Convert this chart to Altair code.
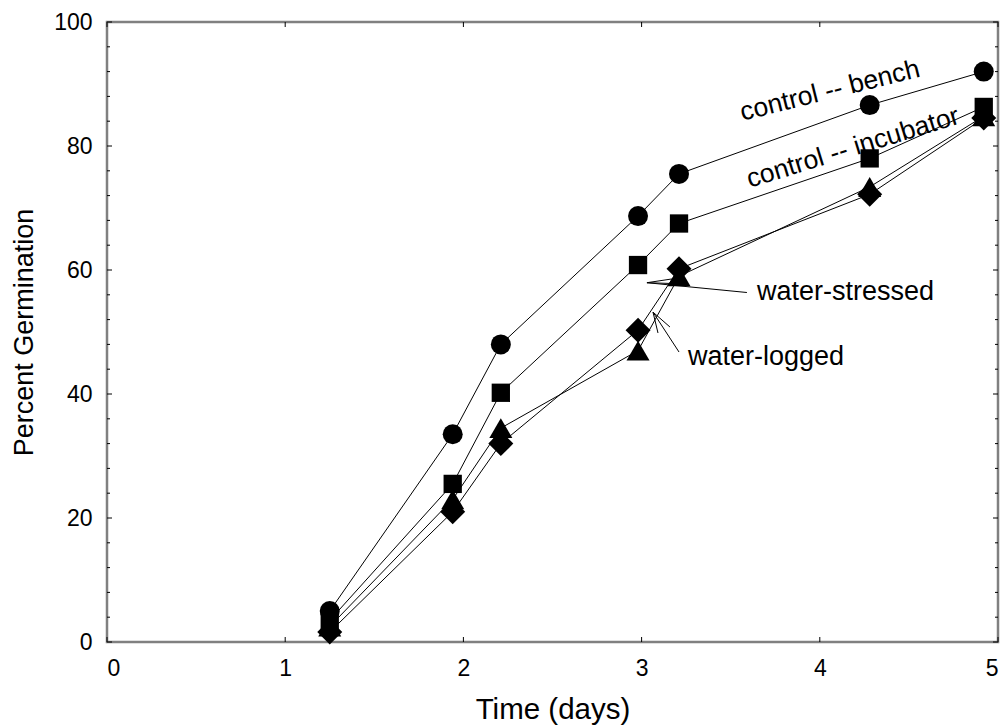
import altair as alt
import pandas as pd

# ---- data ----
days = [1.25, 1.94, 2.21, 2.98, 3.21, 4.28, 4.92]
bench = [5.0, 33.5, 48.0, 68.7, 75.5, 86.6, 92.0]
incubator = [3.5, 25.5, 40.2, 60.8, 67.5, 78.0, 86.3]
logged = [2.5, 23.0, 34.5, 47.0, 59.0, 73.4, 84.8]
stressed = [1.6, 21.0, 32.0, 50.3, 60.2, 72.2, 84.5]
series_names = ["control -- bench", "control -- incubator", "water-logged", "water-stressed"]
series_shapes = ["circle", "square", "triangle-up", "diamond"]
series_sizes = [400, 335, 530, 625]

x_ticks = [0, 1, 2, 3, 4, 5]
y_major = [0, 20, 40, 60, 80, 100]
y_minor = [v for v in range(0, 101, 4) if v % 20 != 0]

# annotation leader lines (data units)
ann_x = [3.03, 3.03, 3.03, 3.064, 3.064, 3.064]
ann_y = [57.95, 57.95, 57.95, 53.2, 53.2, 53.2]
ann_x2 = [3.187, 3.26, 3.591, 3.092, 3.159, 3.21]
ann_y2 = [58.63, 57.74, 56.37, 49.84, 50.81, 46.77]

W, H = 891, 620
FONT = "Liberation Sans"

rows = []
for name, vals in zip(series_names, [bench, incubator, logged, stressed]):
    for d, v in zip(days, vals):
        rows.append({"series": name, "day": d, "pct": v})
df = pd.DataFrame(rows)

xs = alt.Scale(domain=[0, 5], nice=False, zero=False)
ys = alt.Scale(domain=[0, 100], nice=False, zero=False)

X = alt.X("day:Q", scale=xs, title="Time (days)",
          axis=alt.Axis(values=x_ticks, ticks=False, tickSize=0, domain=False, grid=False,
                        labelFontSize=23, labelPadding=15, labelFont=FONT, labelColor="black",
                        titleFontSize=29.5, titleFont=FONT, titleFontWeight="normal", titleColor="black",
                        titleBaseline="alphabetic", titleY=76, format="d"))
Y = alt.Y("pct:Q", scale=ys, title="Percent Germination",
          axis=alt.Axis(values=y_major, ticks=False, tickSize=0, domain=False, grid=False,
                        labelFontSize=23, labelPadding=15, labelFont=FONT, labelColor="black",
                        titleFontSize=27, titleFont=FONT, titleFontWeight="normal", titleColor="black",
                        titleBaseline="alphabetic", titleX=-75, format="d"))

base = alt.Chart(df)
lines = base.mark_line(color="black", strokeWidth=1).encode(
    x=X, y=Y, detail="series:N", order="day:Q")

point_layers = []
for name, shp, sz in zip(series_names, series_shapes, series_sizes):
    point_layers.append(
        base.transform_filter(alt.datum.series == name)
        .mark_point(filled=True, color="black", opacity=1, shape=shp, size=sz)
        .encode(x=alt.X("day:Q", scale=xs), y=alt.Y("pct:Q", scale=ys)))

# inward ticks
ymaj_df = pd.DataFrame({"v": y_major})
ymin_df = pd.DataFrame({"v": y_minor})
xt_df = pd.DataFrame({"v": x_ticks})
tick_layers = []
for dfx, ln in [(ymaj_df, 5), (ymin_df, 3)]:
    tick_layers.append(alt.Chart(dfx).mark_rule(color="black", strokeWidth=1).encode(
        y=alt.Y("v:Q", scale=ys), x=alt.value(0), x2=alt.value(ln)))
    tick_layers.append(alt.Chart(dfx).mark_rule(color="black", strokeWidth=1).encode(
        y=alt.Y("v:Q", scale=ys), x=alt.value(W), x2=alt.value(W - ln)))
tick_layers.append(alt.Chart(xt_df).mark_rule(color="black", strokeWidth=1).encode(
    x=alt.X("v:Q", scale=xs), y=alt.value(H), y2=alt.value(H - 5)))
tick_layers.append(alt.Chart(xt_df).mark_rule(color="black", strokeWidth=1).encode(
    x=alt.X("v:Q", scale=xs), y=alt.value(0), y2=alt.value(5)))

ann_df = pd.DataFrame({"x": ann_x, "y": ann_y, "x2": ann_x2, "y2": ann_y2})
arrows = alt.Chart(ann_df).mark_rule(color="black", strokeWidth=1).encode(
    x=alt.X("x:Q", scale=xs), y=alt.Y("y:Q", scale=ys), x2="x2:Q", y2="y2:Q")

lab_bench = alt.Chart(pd.DataFrame({"x": [4.057], "y": [88.9], "t": ["control -- bench"]})).mark_text(
    angle=346, fontSize=26.5, font=FONT, color="black", align="center", baseline="middle").encode(
    x=alt.X("x:Q", scale=xs), y=alt.Y("y:Q", scale=ys), text="t:N")
lab_inc = alt.Chart(pd.DataFrame({"x": [4.186], "y": [79.7], "t": ["control -- incubator"]})).mark_text(
    angle=343, fontSize=26.5, font=FONT, color="black", align="center", baseline="middle").encode(
    x=alt.X("x:Q", scale=xs), y=alt.Y("y:Q", scale=ys), text="t:N")
lab_water = alt.Chart(pd.DataFrame({"x": [3.648, 3.26], "y": [56.45, 45.97],
                                    "t": ["water-stressed", "water-logged"]})).mark_text(
    fontSize=27, font=FONT, color="black", align="left", baseline="middle").encode(
    x=alt.X("x:Q", scale=xs), y=alt.Y("y:Q", scale=ys), text="t:N")

chart = alt.layer(lines, *point_layers, *tick_layers, arrows, lab_bench, lab_inc, lab_water).properties(
    width=W, height=H,
    autosize=alt.AutoSizeParams(type="none"),
    padding={"left": 107, "top": 22, "right": 9, "bottom": 83},
    background="white",
).configure_view(stroke="#808080", strokeWidth=2.5)

chart.save("out.html", embed_options={"renderer": "svg", "actions": False})
